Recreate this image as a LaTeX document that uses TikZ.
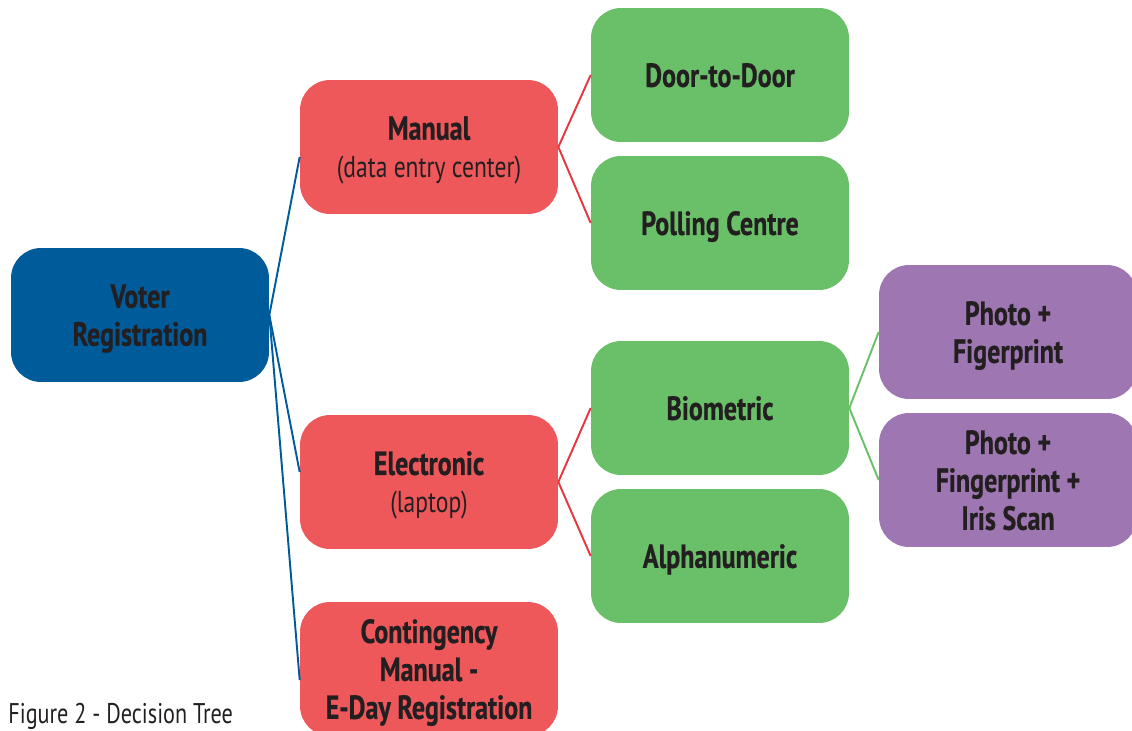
\documentclass[tikz,border=0pt]{standalone}
\usepackage{fontspec}
\setmainfont{PT Sans}[FakeStretch=0.78, BoldFeatures={FakeBold=0.6}]
\definecolor{bleu}{RGB}{0,91,154}
\definecolor{rouge}{RGB}{239,88,91}
\definecolor{rougetrait}{RGB}{232,54,63}
\definecolor{vert}{RGB}{106,191,105}
\definecolor{violet}{RGB}{157,118,178}
\definecolor{texte}{RGB}{35,31,32}
\newcommand{\souslig}[1]{{\mdseries\fontsize{17.2}{21.6}\selectfont #1}}
\begin{document}
\begin{tikzpicture}[x=0.02cm, y=-0.02cm]
\tikzset{boite/.style={rounded corners=0.6cm, minimum width=5.16cm, minimum height=2.68cm, align=center, text=texte, text depth=0pt, font=\fontsize{19}{21.6}\selectfont\bfseries}}
\tikzset{trait/.style={line width=1.1pt}}
\clip (0, 0) rectangle (1132, 730);
\node[boite, fill=bleu] (VR) at (140, 315) {Voter\\Registration};
\node[boite, fill=rouge] (M) at (429, 147) {Manual\\\souslig{(data entry center)}};
\node[boite, fill=rouge] (E) at (429, 482) {Electronic\\\souslig{(laptop)}};
\node[boite, fill=rouge] (C) at (429, 669) {Contingency\\Manual -\\E-Day Registration};
\node[boite, fill=vert] (DD) at (720, 75) {Door-to-Door};
\node[boite, fill=vert] (PC) at (720, 223) {Polling Centre};
\node[boite, fill=vert] (B) at (720, 408) {Biometric};
\node[boite, fill=vert] (A) at (720, 556) {Alphanumeric};
\node[boite, fill=violet] (P1) at (1008, 332) {Photo +\\Figerprint};
\node[boite, fill=violet] (P2) at (1008, 480) {Photo +\\Fingerprint +\\Iris Scan};
\node[anchor=base west, text=texte, inner sep=0pt, font=\fontsize{16.2}{19}\selectfont] (FIG) at (8, 723) {Figure 2 - Decision Tree};
\draw[trait, bleu] (VR.east) -- ([yshift=-0.2cm]M.west);
\draw[trait, bleu] (VR.east) -- ([yshift=0.2cm]E.west);
\draw[trait, bleu] (VR.east) -- ([yshift=-0.22cm]C.west);
\draw[trait, rougetrait] (M.east) -- (DD.west);
\draw[trait, rougetrait] (M.east) -- (PC.west);
\draw[trait, rougetrait] (E.east) -- (B.west);
\draw[trait, rougetrait] (E.east) -- (A.west);
\draw[trait, vert] (B.east) -- (P1.west);
\draw[trait, vert] (B.east) -- (P2.west);
\end{tikzpicture}
\end{document}
